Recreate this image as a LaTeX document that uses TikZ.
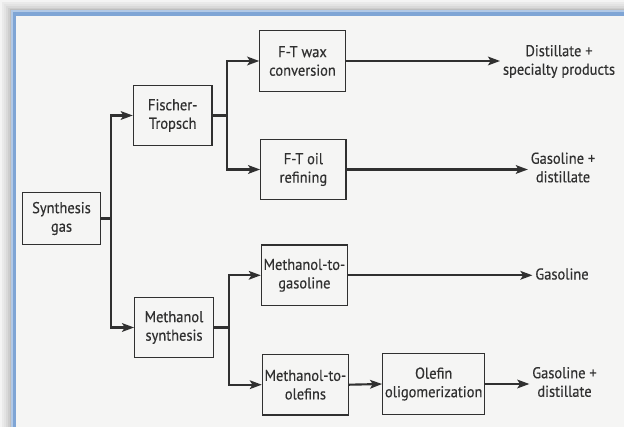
\documentclass[tikz,border=0pt]{standalone}
\usepackage{fontspec}
\setmainfont{PT Sans}[FakeStretch=0.92,FakeBold=0.4]
\usetikzlibrary{arrows.meta}
\definecolor{ink}{HTML}{303030}
\definecolor{paper}{HTML}{F5F5F4}
\definecolor{frameblue}{HTML}{7FA5D5}
\definecolor{outside}{HTML}{F4F4F4}
\tikzset{%
  >={Stealth[length=9pt,width=6.5pt,inset=2pt]}, % filled arrow tips
  unit box/.style={draw=ink,line width=0.9pt,text=ink,align=center,
    minimum height=45.5pt,inner sep=1pt,font=\fontsize{11.8}{13.9}\selectfont},
  product/.style={text=ink,align=center,inner sep=2pt,
    font=\fontsize{11.8}{13.9}\selectfont},
  flow/.style={draw=ink,line width=1.6pt}%
}
\begin{document}
\begin{tikzpicture}[x=0.75pt,y=-0.75pt]

%% page and frame

\useasboundingbox (0,0) rectangle (624,427);
\begin{scope}
\clip (0,0) rectangle (624,427);
\fill[outside] (0,0) rectangle (624,427);
\foreach \d/\s in {2/4,4/7,6/11,8/16,9.5/22} % shadow of the frame
  \fill[black!\s!outside] (\d,\d) rectangle (700,500);
\fill[frameblue!60] (10.5,10) rectangle (700,500);
\fill[frameblue] (12.5,12.5) rectangle (700,500);
\fill[paper] (16,16) rectangle (700,500);
\end{scope}

%% some definitions

\def\xA{110.6} % first branch
\def\xB{227}   % Fischer-Tropsch branch
\def\xC{229}   % methanol branch

%% process units

\node[unit box,minimum width=58pt,minimum height=38.5pt] (syn) at (61.5,218.5)
    {Synthesis\\gas};
\node[unit box,minimum width=59pt] (ft) at (172.7,115.5) {Fischer-\\Tropsch};
\node[unit box,minimum width=59pt] (meoh) at (174,327.5) {Methanol\\synthesis};
\node[unit box,minimum width=64pt] (wax) at (302.5,61) {F-T wax\\conversion};
\node[unit box,minimum width=64pt] (oil) at (303.4,169.5) {F-T oil\\refining};
\node[unit box,minimum width=64.5pt] (mtg) at (304.4,275.3)
    {Methanol-to-\\gasoline};
\node[unit box,minimum width=64.5pt] (mto) at (305.4,384.7)
    {Methanol-to-\\olefins};
\node[unit box,minimum width=76.5pt] (olig) at (433.7,384)
    {Olefin\\oligomerization};

%% products

\node[product] (dist) at (559,61.5) {Distillate +\\specialty products};
\node[product] (gasA) at (563,167.5) {Gasoline +\\distillate};
\node[product] (gasB) at (562,274) {Gasoline};
\node[product] (gasC) at (564.5,382) {Gasoline +\\distillate};

%% branch points

\coordinate (jsyn) at (\xA,218.5);
\coordinate (jft) at (\xB,115.5);
\coordinate (jmeoh) at (\xC,327.5);

%% draw connectors

\draw[flow] (syn.east) -- (jsyn);
\draw[flow,->] (jsyn) |- (ft.west);
\draw[flow,->] (jsyn) |- (meoh.west);
\draw[flow] (ft.east) -- (jft);
\draw[flow,->] (jft) |- (wax.west);
\draw[flow,->] (jft) |- (oil.west);
\draw[flow] (meoh.east) -- (jmeoh);
\draw[flow,->] (jmeoh) |- (mtg.west);
\draw[flow,->] (jmeoh) |- (mto.west);
\draw[flow,->] (mto.east) -- (olig.west);
\draw[flow,->] (wax.east) -- (wax.east -| dist.west);
\draw[flow,->] (oil.east) -- (oil.east -| gasA.west);
\draw[flow,->] (mtg.east) -- (mtg.east -| gasB.west);
\draw[flow,->] (olig.east) -- (olig.east -| gasC.west);
\end{tikzpicture}
\end{document}
